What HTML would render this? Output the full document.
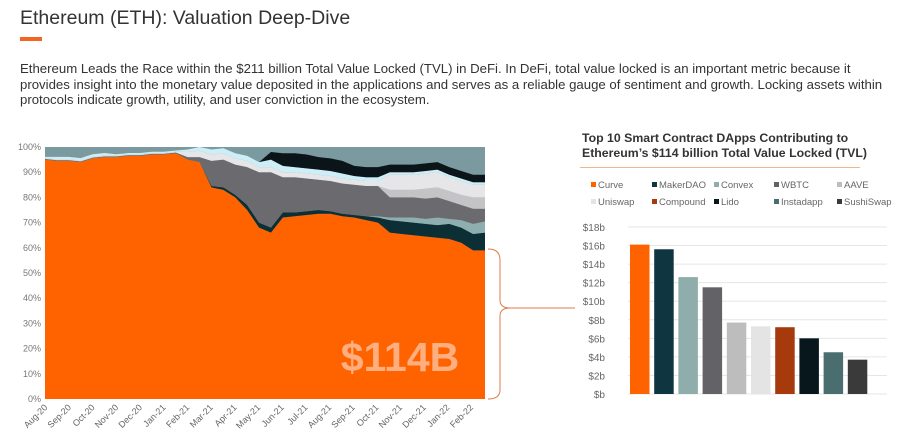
<!DOCTYPE html>
<html><head><meta charset="utf-8"><style>
body{margin:0;width:903px;height:445px;background:#fff;font-family:"Liberation Sans",sans-serif;overflow:hidden;position:relative}
.t{position:absolute}
</style></head><body>
<div class="t" style="left:20px;top:7px;font-size:19.5px;color:#333">Ethereum (ETH): Valuation Deep-Dive</div>
<div class="t" style="left:20px;top:37px;width:22px;height:4px;background:#f26522"></div>
<div class="t" style="left:20px;top:61px;width:878px;font-size:13.2px;line-height:15.5px;color:#333">Ethereum Leads the Race within the $211 billion Total Value Locked (TVL) in DeFi. In DeFi, total value locked is an important metric because it provides insight into the monetary value deposited in the applications and serves as a reliable gauge of sentiment and growth. Locking assets within protocols indicate growth, utility, and user conviction in the ecosystem.</div>
<div class="t" style="left:582px;top:131px;font-size:12.3px;font-weight:bold;color:#333;line-height:15px">Top 10 Smart Contract DApps Contributing to<br>Ethereum’s $114 billion Total Value Locked (TVL)</div>
<div class="t" style="left:580px;top:167px;width:280px;height:1px;background:#f2b48f"></div>
<svg id="svg" width="903" height="445" style="position:absolute;left:0;top:0"></svg>
<script>
const months=["Aug-20","Sep-20","Oct-20","Nov-20","Dec-20","Jan-21","Feb-21","Mar-21","Apr-21","May-21","Jun-21","Jul-21","Aug-21","Sep-21","Oct-21","Nov-21","Dec-21","Jan-22","Feb-22"];
const yTicks=[0,10,20,30,40,50,60,70,80,90,100];
const sOrange=[95,94.5,94.5,94,95.5,96,96,96.5,96.5,97,97,97.5,95,94,84,83,80,75,68,66,72,72.5,73,73.5,73.5,72.5,72,71,70,66,65.5,65,64.5,64,63.5,62,59,59];
const sDarkTeal=[0,0,0,0,0,0,0,0,0,0,0,0,0,0,0.5,1,1,2,2,2,2,1.5,1.5,1.5,1,1,1,1.5,2,5,5,5,5,5,6,6,6.5,7];
const sTealGray=[0,0,0,0,0,0,0,0,0,0,0,0,0,0,0,0,0,0,0,0,0,0,0,0,0,0,0,0,0.5,1,1.5,2,2,3,2,3,4,4.5];
const sGray=[0.3,0.3,0.3,0.3,0.3,0.3,0.3,0.3,0.3,0.3,0.3,0.3,1,2,10,11,12,15,20,22,14,14,13,12,12,12,12,12,12,8,8,8,8,8,7,6,6,5];
const sLightGray=[0,0,0,0,0,0,0,0,0,0,0,0,0,0,0,0,0,0,0,0,0,0,0,0,0,0,0,0,0,3,3,3,4,4,4,4,4.5,4.5];
const sNearWhite=[0.3,0.3,0.3,0.3,0.3,0.3,0.3,0.3,0.3,0.3,0.3,0.3,2,2.5,2.5,2.5,2.5,2.5,2,2,2,2,2,2,2,2,2,2,2,6,6,6,6,6,5.5,5.5,5,5];
const sLightCyan=[0.5,1,1,1,1,1,0.5,0.5,0.5,0.5,0.5,0.5,1,1.5,2,2,2,2,2,3,2.5,2,2,2,2,2,1.5,1.5,1.5,1,1,1,1,1,1,1,1,1];
const sBlack=[0,0,0,0,0,0,0,0,0,0,0,0,0,0,0,0,0,0,0,3,5,5.5,5.5,5,5,5,4,4,4,3,3,3,3,3,3,3,3,3];
const series=[[sOrange,"#ff6300","orange"],[sDarkTeal,"#0c2f36","dark-teal"],[sTealGray,"#8faeb0","teal-gray"],[sGray,"#6b6a6e","gray"],[sLightGray,"#c4c4c6","light-gray"],[sNearWhite,"#e6e6e8","near-white"],[sLightCyan,"#cdeef7","light-cyan"],[sBlack,"#0b1418","black"]];
const barCats=["Curve","MakerDAO","Convex","WBTC","AAVE","Uniswap","Compound","Lido","Instadapp","SushiSwap"];
const barVals=[16.1,15.6,12.6,11.5,7.7,7.3,7.2,6.0,4.5,3.7];
const barColors=["#ff6300","#0f3640","#8fadab","#636266","#bdbdbd","#e4e4e4","#a63a0c","#07171c","#4a6e70","#3a3a3a"];
const barTicks=[0,2,4,6,8,10,12,14,16,18];
const NS="http://www.w3.org/2000/svg",svg=document.getElementById("svg");
function mk(t,a,p){const e=document.createElementNS(NS,t);for(const k in a)e.setAttribute(k,a[k]);(p||svg).appendChild(e);return e;}
const X0=45,X1=485,Y0=399,Y1=147;
const ax=i=>X0+i/2*(X1-X0)/18.5;
const ay=v=>Y0-v/100*(Y0-Y1);
mk("rect",{x:X0,y:Y1,width:X1-X0,height:Y0-Y1,fill:"#7a9aa0"});
let cum=sOrange.map(()=>0);
series.forEach(([arr,col,nm])=>{
  const lo=cum.slice();cum=cum.map((c,i)=>c+arr[i]);
  let d="M"+cum.map((c,i)=>ax(i)+","+ay(Math.min(c,100))).join("L");
  for(let i=lo.length-1;i>=0;i--)d+="L"+ax(i)+","+ay(lo[i]);
  const p=mk("path",{d:d+"Z",fill:col});
  
  
});
yTicks.forEach(v=>{const t=mk("text",{x:41,y:ay(v)+3,"text-anchor":"end","font-size":"9",fill:"#777"});t.textContent=v+"%";
});
months.forEach((m,i)=>{const x=X0+i*(X1-X0)/18.6;const t=mk("text",{x:x+3,y:408,"text-anchor":"end","font-size":"9",fill:"#666",transform:`rotate(-45 ${x+3} 408)`});t.textContent=m;
});
const lbl=mk("text",{x:400,y:371,"text-anchor":"middle","font-size":"41","font-weight":"bold",fill:"#ffae80"});lbl.textContent="$114B";

const br=mk("path",{d:"M488,249 Q500,249 500,260 L500,300 Q500,308 510,308 L575,308 M510,308 Q500,308 500,316 L500,390 Q500,399 488,399",fill:"none",stroke:"#e07a4a","stroke-width":"1"});

const BY0=394,BY1=227,by=v=>BY0-v/18*(BY0-BY1);
barTicks.forEach(v=>{mk("line",{x1:628,x2:887,y1:by(v),y2:by(v),stroke:"#e6e6e6"});
const t=mk("text",{x:605,y:by(v)+4,"text-anchor":"end","font-size":"10",fill:"#666"});t.textContent="$"+(v||"")+"b";
});
barVals.forEach((v,i)=>{const r=mk("rect",{x:630+i*24.2,y:by(v),width:19.5,height:BY0-by(v),fill:barColors[i]});
});
const lx=[591,652,714,774,837];
barCats.forEach((c,i)=>{const x=lx[i%5],y=i<5?188:205;
const g=mk("g",{});
mk("rect",{x:x,y:y-6,width:5,height:5,fill:barColors[i]},g);
const t=mk("text",{x:x+7,y:y,"font-size":"9.5",fill:"#666"},g);t.textContent=c;});
</script>
</body></html>
